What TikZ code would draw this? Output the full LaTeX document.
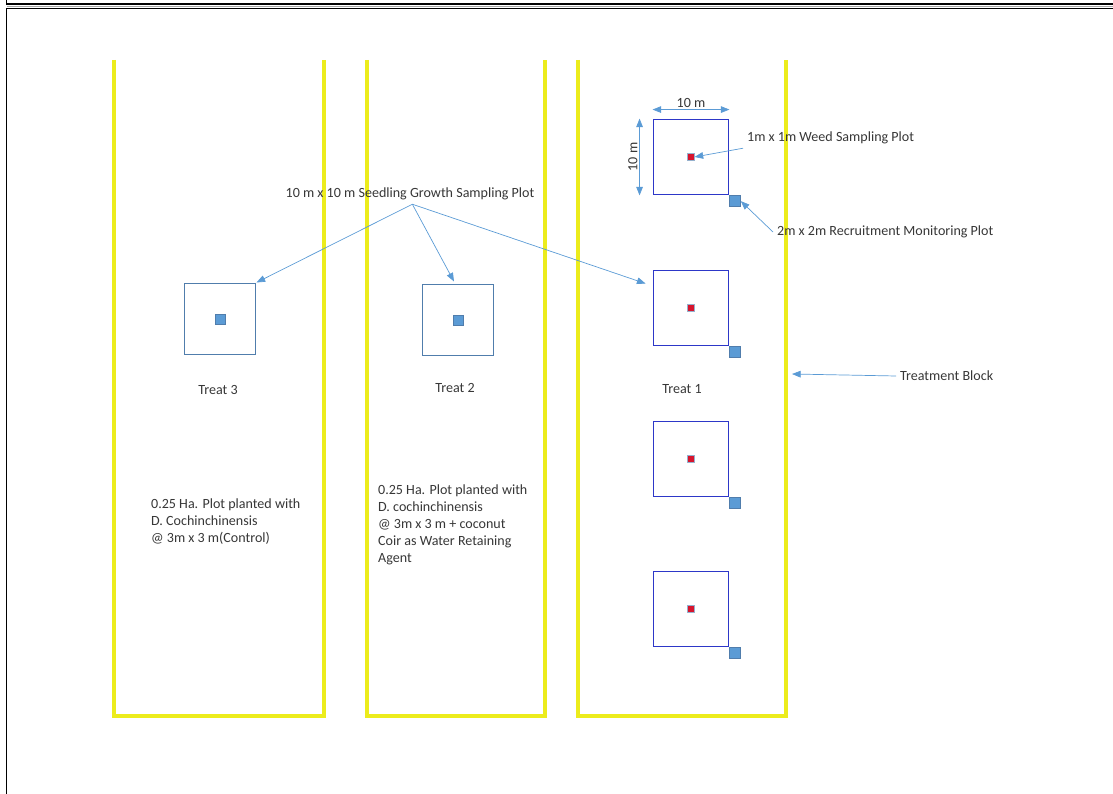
\documentclass[tikz,border=0pt]{standalone}
\usepackage{fontspec}
\setmainfont{Carlito}
\usetikzlibrary{arrows.meta,positioning,calc}
\definecolor{blockyellow}{RGB}{236,236,28}
\definecolor{plotblue}{RGB}{80,125,172}
\definecolor{darkplot}{RGB}{45,55,200}
\definecolor{fillblue}{RGB}{91,155,213}
\definecolor{weedred}{RGB}{215,20,45}
\definecolor{textgray}{RGB}{55,55,55}

\begin{document}
\begin{tikzpicture}[x=0.03cm,y=-0.03cm,
    lbl/.style={font=\fontsize{12}{14.5}\selectfont,text=textgray},
    block/.style={draw=blockyellow,line width=2.6pt},
    plotbox/.style={draw=plotblue,line width=1.1pt,minimum size=2.15cm,inner sep=0pt},
    treatbox/.style={draw=darkplot,line width=1.6pt,minimum size=2.25cm,inner sep=0pt},
    centresq/.style={draw=plotblue,fill=fillblue,line width=0.6pt,minimum size=0.3cm,inner sep=0pt},
    weedsq/.style={draw=plotblue!60,fill=weedred,line width=0.6pt,minimum size=0.19cm,inner sep=0pt},
    recsq/.style={draw=plotblue,fill=fillblue,line width=0.6pt,minimum size=0.32cm,inner sep=0pt},
    callout/.style={draw=fillblue,line width=0.6pt,-{Triangle[length=0.26cm,width=0.2cm]}},
    dim/.style={draw=fillblue,line width=0.6pt,{Triangle[length=0.26cm,width=0.2cm]}-{Triangle[length=0.26cm,width=0.2cm]}}]

    \useasboundingbox (0,0) rectangle (1113,794);

    % page frame
    \draw[line width=1.3pt] (6.5,0) -- (6.5,4) -- (1113,4);
    \draw[gray!70,line width=0.6pt] (6.5,6.3) -- (1113,6.3);
    \draw[line width=1.3pt] (1113,8.7) -- (6.5,8.7) -- (6.5,794);

    % treatment blocks
    \foreach \l/\r in {114/324, 367/545, 578/786}
    {
    \draw[block] (\l,60) -- (\l,716) -- (\r,716) -- (\r,60);
    }
    \coordinate (blockedge) at (792,374);

    % Treat 3
    \node[plotbox] (t3) at (220,319) {};
    \node[centresq] (c3) at (t3) {};
    \node[lbl] (lab3) at (218,390) {Treat 3};
    \node[lbl,anchor=west,align=left] (desc3) at (147,522) {0.25 Ha. Plot planted with\\D. Cochinchinensis\\@ 3m x 3 m(Control)};

    % Treat 2
    \node[plotbox] (t2) at (458,320) {};
    \node[centresq] (c2) at (t2) {};
    \node[lbl] (lab2) at (455,388) {Treat 2};
    \node[lbl,anchor=west,align=left] (desc2) at (374,525) {0.25 Ha. Plot planted with\\D. cochinchinensis\\@ 3m x 3 m + coconut\\Coir as Water Retaining\\Agent};

    % Treat 1
    \foreach \i/\y in {a/157, b/308, c/459, d/609}
    {
    \node[treatbox] (t1\i) at (691,\y) {};
    \node[weedsq] (w\i) at (t1\i) {};
    \node[recsq,anchor=north west] (r\i) at (t1\i.south east) {};
    }
    \node[lbl] (lab1) at (682,389) {Treat 1};

    % plot size
    \draw[dim] ([shift={(0,-9)}]t1a.north west) -- ([shift={(0,-9)}]t1a.north east)
        node[midway,above,lbl,inner sep=1.5pt] {10 m};
    \draw[dim] ([shift={(-13,0)}]t1a.south west) -- ([shift={(-13,0)}]t1a.north west)
        node[midway,above,sloped,lbl,inner sep=1.5pt] {10 m};

    % labels
    \node[lbl] (seed) at (410,194) {10 m x 10 m Seedling Growth Sampling Plot};
    \node[lbl,anchor=west] (weed) at (743,138) {1m x 1m Weed Sampling Plot};
    \node[lbl,anchor=west] (recr) at (773,232) {2m x 2m Recruitment Monitoring Plot};
    \node[lbl,anchor=west] (tblock) at (896,376) {Treatment Block};

    \draw[callout] ([xshift=2pt]seed.south) -- (t3.north east);
    \draw[callout] ([xshift=2pt]seed.south) -- ([shift={(-4,-2)}]t2.north);
    \draw[callout] ([xshift=2pt]seed.south) -- ([shift={(-7,14)}]t1b.north west);
    \draw[callout] (weed.south west) -- (wa.east);
    \draw[callout] (recr.west) -- (ra.east);
    \draw[callout] (tblock.west) -- (blockedge);

\end{tikzpicture}
\end{document}
